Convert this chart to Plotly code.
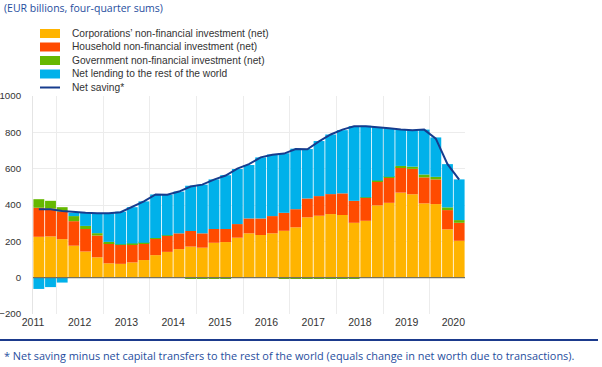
import plotly.graph_objects as go

quarters = ["2011Q1","2011Q2","2011Q3","2011Q4","2012Q1","2012Q2","2012Q3","2012Q4",
            "2013Q1","2013Q2","2013Q3","2013Q4","2014Q1","2014Q2","2014Q3","2014Q4",
            "2015Q1","2015Q2","2015Q3","2015Q4","2016Q1","2016Q2","2016Q3","2016Q4",
            "2017Q1","2017Q2","2017Q3","2017Q4","2018Q1","2018Q2","2018Q3","2018Q4",
            "2019Q1","2019Q2","2019Q3","2019Q4","2020Q1"]
year_labels = ["2011","2012","2013","2014","2015","2016","2017","2018","2019","2020"]
y_ticks = [-200, 0, 200, 400, 600, 800, 1000]

corporations = [225, 227, 212, 176, 144, 112, 79, 76, 84, 97,
                124, 142, 157, 171, 165, 192, 196, 220, 244, 235,
                244, 258, 277, 332, 341, 350, 345, 302, 313, 398,
                412, 468, 459, 409, 405, 266, 203]
household = [160, 153, 152, 135, 124, 120, 110, 104, 100, 91,
             92, 90, 87, 86, 79, 76, 72, 75, 82, 91,
             95, 99, 100, 104, 108, 110, 119, 121, 127, 133,
             138, 139, 140, 143, 136, 106, 99]
government = [47, 43, 24, 28, 17, 13, 8, 3, 4, 4,
              2, 1, 0, -6, -6, -5, -3, 0, 0, 0,
              0, -4, -5, -7, -7, -7, -6, -2, 2, 3,
              5, 8, 12, 16, 14, 15, 15]
net_lending = [-62, -52, -27, 18, 71, 110, 158, 180, 200, 228,
               240, 224, 230, 249, 268, 273, 296, 303, 294, 336,
               339, 328, 333, 272, 303, 328, 348, 411, 394, 295,
               268, 200, 201, 247, 217, 238, 224]
net_saving = [377, 376, 367, 361, 358, 355, 355, 360, 388, 420,
              458, 457, 474, 502, 512, 540, 562, 600, 625, 662,
              677, 683, 708, 707, 750, 788, 815, 833, 834, 830,
              823, 815, 812, 815, 765, 625, 540]

series_names = ["Corporations\u2019 non-financial investment (net)",
                "Household non-financial investment (net)",
                "Government non-financial investment (net)",
                "Net lending to the rest of the world",
                "Net saving*"]
colors = ["#FFB400", "#FF4B00", "#65B800", "#00B1EA"]
line_color = "#163C8E"

idx = list(range(len(quarters)))
W, H = 602, 367
L, R, T, B = 33, 137, 96, 53
pw, ph = W - L - R, H - T - B

def px(x):
    return (x - L) / pw

def py(y):
    return (H - B - y) / ph

fig = go.Figure()
for name, vals, col in zip(series_names[:4], [corporations, household, government, net_lending], colors):
    fig.add_trace(go.Bar(x=idx, y=vals, name=name, marker=dict(color=col, line=dict(width=0)),
                         showlegend=False, customdata=quarters,
                         hovertemplate="%{customdata}: %{y}<extra>" + name + "</extra>"))
fig.add_trace(go.Scatter(x=idx, y=net_saving, name=series_names[4], mode="lines",
                         line=dict(color=line_color, width=2), showlegend=False))

n = len(quarters)
major = [i * 4 - 0.5 for i in range(len(year_labels))]
minor = [i * 4 + 1.5 for i in range(len(year_labels)) if i * 4 + 1.5 < n]

fig.update_layout(
    width=W, height=H, margin=dict(l=L, r=R, t=T, b=B, pad=0, autoexpand=False),
    paper_bgcolor="white", plot_bgcolor="white",
    barmode="relative", bargap=0.07,
    font=dict(family="Liberation Sans, Arial, sans-serif", size=9, color="#333333"),
    xaxis=dict(range=[-0.5, n - 0.5], tickmode="array", tickvals=major, ticktext=year_labels,
               showgrid=False, zeroline=False, showline=False, ticks="", automargin=False,
               tickfont=dict(size=10.5, color="#333333"),
               minor=dict(tickmode="array", tickvals=minor, showgrid=True,
                          gridcolor="#ececec", gridwidth=1, ticks="")),
    yaxis=dict(range=[-200, 1000], tickmode="array", tickvals=y_ticks, automargin=False,
               showgrid=True, gridcolor="#ececec", zeroline=False,
               showline=True, linecolor="#e4e4e4", linewidth=1,
               ticks="", ticklabelstandoff=9, tickfont=dict(size=9.7, color="#333333")),
    yaxis2=dict(range=[-200, 1000], tickmode="array", tickvals=y_ticks, overlaying="y",
                side="right", showgrid=False, zeroline=False, showline=True, automargin=False,
                linecolor="#e4e4e4", ticks="", ticklabelstandoff=4,
                tickfont=dict(size=9.7, color="#333333")),
)

shapes = []
annotations = []
# zero reference line
shapes.append(dict(type="line", xref="paper", yref="y", x0=0, x1=1, y0=0, y1=0,
                   line=dict(color="#77715c", width=1.3), layer="above"))
# custom legend
rows = [33.5, 47, 60.5, 74, 87.5]
for i, cy in enumerate(rows):
    if i < 4:
        shapes.append(dict(type="rect", xref="paper", yref="paper",
                           x0=px(40), x1=px(60), y0=py(cy + 4.5), y1=py(cy - 4.5),
                           fillcolor=colors[i], line=dict(width=0)))
    else:
        shapes.append(dict(type="line", xref="paper", yref="paper",
                           x0=px(40), x1=px(60), y0=py(cy), y1=py(cy),
                           line=dict(color=line_color, width=2)))
    annotations.append(dict(text=series_names[i], xref="paper", yref="paper",
                            x=px(70), y=py(cy), xanchor="left", yanchor="middle",
                            showarrow=False, font=dict(size=10.2, color="#333333")))
# title
annotations.append(dict(text="(EUR billions, four-quarter sums)", xref="paper", yref="paper",
                        x=px(2), y=py(8), xanchor="left", yanchor="middle", showarrow=False,
                        font=dict(family="Open Sans, sans-serif", size=10.5, color="#1F4E9E")))
# separator and footnote
shapes.append(dict(type="line", xref="paper", yref="paper", x0=px(0), x1=px(598),
                   y0=py(340), y1=py(340), line=dict(color="#1B3A8C", width=2)))
annotations.append(dict(text="* Net saving minus net capital transfers to the rest of the world (equals change in net worth due to transactions).",
                        xref="paper", yref="paper", x=px(2), y=py(355), xanchor="left",
                        yanchor="middle", showarrow=False,
                        font=dict(family="Open Sans, sans-serif", size=10.9, color="#1F4E9E")))
fig.update_layout(shapes=shapes, annotations=annotations)

fig.write_html("out.html", config={"displayModeBar": False},
               post_script="document.body.style.margin='0px';document.body.style.padding='0px';")
